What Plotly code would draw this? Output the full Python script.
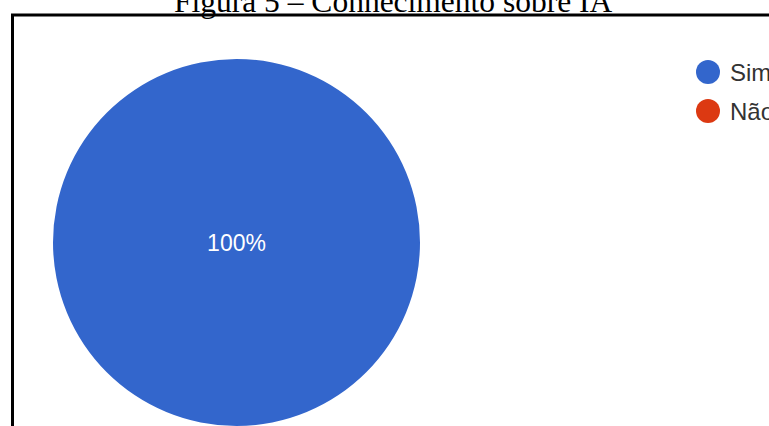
import plotly.graph_objects as go

# Data
labels = ["Sim", "Não"]
values = [100, 0]
colors = ["#3366CC", "#DC3912"]
title_text = "Figura 5 – Conhecimento sobre IA"

W, H = 769, 426

fig = go.Figure()

fig.add_trace(go.Pie(
    labels=labels,
    values=values,
    marker=dict(colors=colors, line=dict(width=0)),
    sort=False,
    direction="clockwise",
    textinfo="percent",
    textposition="inside",
    insidetextfont=dict(color="white", size=23, family="Liberation Sans, Arial"),
    showlegend=False,
    domain=dict(x=[52 / W, 421 / W], y=[0, 1 - 59 / H]),
    hoverinfo="label+percent",
))

# Title
fig.add_annotation(
    text=title_text, xref="paper", yref="paper",
    x=393 / W, y=1 - 1.7 / H, xanchor="center", yanchor="middle",
    showarrow=False,
    font=dict(family="Liberation Serif, Times New Roman", size=31.5, color="black"),
)

# Legend (Google-Charts style: circle + label)
leg_x = 708      # circle centre, px
leg_y0 = 72      # first row centre, px
leg_dy = 39      # row spacing, px
leg_r = 12       # circle radius, px
for i, (lab, col) in enumerate(zip(labels, colors)):
    cy = leg_y0 + i * leg_dy
    fig.add_shape(type="circle", xref="paper", yref="paper",
                  x0=(leg_x - leg_r) / W, x1=(leg_x + leg_r) / W,
                  y0=1 - (cy + leg_r) / H, y1=1 - (cy - leg_r) / H,
                  fillcolor=col, line=dict(width=0))
    fig.add_annotation(text=lab, xref="paper", yref="paper",
                       x=(leg_x + leg_r + 8) / W, y=1 - cy / H,
                       xanchor="left", yanchor="middle", showarrow=False,
                       font=dict(family="Liberation Sans, Arial", size=24, color="#333333"))

# Frame lines
fy = 1 - 15 / H
fx = 12.5 / W
fig.add_shape(type="line", xref="paper", yref="paper", x0=fx, y0=-0.01, x1=fx, y1=fy,
              line=dict(color="black", width=3))
fig.add_shape(type="line", xref="paper", yref="paper", x0=fx - 1.5 / W, y0=fy, x1=1.01, y1=fy,
              line=dict(color="black", width=3))

fig.update_layout(
    width=W, height=H,
    margin=dict(l=0, r=0, t=0, b=0),
    paper_bgcolor="white", plot_bgcolor="white",
    showlegend=False,
)

fig.write_html("out.html")
